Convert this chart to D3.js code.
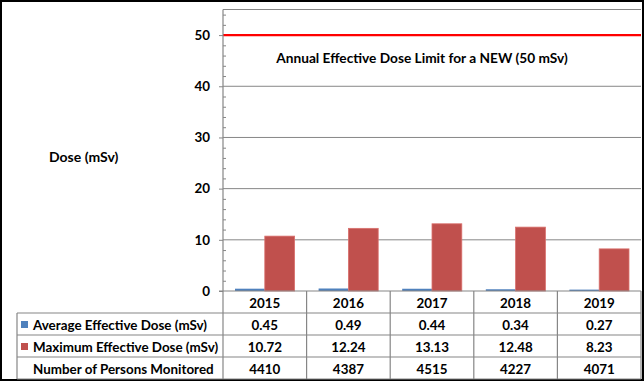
<!DOCTYPE html>
<html>
<head>
<meta charset="utf-8">
<script src="https://cdn.jsdelivr.net/npm/d3@7"></script>
<style>
  html, body { margin: 0; padding: 0; background: #fff; }
  svg { display: block; }
  text { font-family: Lato, "Open Sans", sans-serif; font-weight: bold; fill: #000; }
</style>
</head>
<body>
<svg id="chart" width="644" height="381"></svg>
<script>
const years = ["2015", "2016", "2017", "2018", "2019"];
const avgDose = [0.45, 0.49, 0.44, 0.34, 0.27];
const maxDose = [10.72, 12.24, 13.13, 12.48, 8.23];
const personsMonitored = [4410, 4387, 4515, 4227, 4071];
const seriesNames = ["Average Effective Dose (mSv)", "Maximum Effective Dose (mSv)"];
const seriesColors = ["#4F81BD", "#C0504D"];
const doseLimit = 50;
const limitLabel = "Annual Effective Dose Limit for a NEW (50 mSv)";
const yTicks = [0, 10, 20, 30, 40, 50];
const yMinorTicks = d3.range(0, 55, 2);
const yAxisTitle = "Dose (mSv)";
const rowLabel3 = "Number of Persons Monitored";

const svg = d3.select("#chart");
const W = 644, H = 381;
const plotL = 223, plotR = 641, plotT = 9.5, plotB = 291;
const rowH = 22;
const tableL = 17;
const fs = 13.4;
const gridColor = "#868686";

// outer frame
svg.append("rect").attr("x", 1).attr("y", 1).attr("width", W - 2).attr("height", H - 2)
  .attr("fill", "#fff").attr("stroke", "#000").attr("stroke-width", 2);

const x = d3.scaleBand().domain(years).range([plotL, plotR]).padding(0);
const xs = d3.scaleBand().domain([0, 1]).range([12, x.bandwidth() - 12]).padding(0);
const y = d3.scaleLinear().domain([0, 55]).range([plotB, plotT]);

// gridlines
svg.append("g").selectAll("line").data(yTicks.filter(d => d > 0)).join("line")
  .attr("x1", plotL).attr("x2", plotR)
  .attr("y1", d => y(d)).attr("y2", d => y(d))
  .attr("stroke", gridColor).attr("stroke-width", 1);

// plot border top
svg.append("line").attr("x1", plotL).attr("x2", plotR).attr("y1", plotT).attr("y2", plotT)
  .attr("stroke", gridColor).attr("stroke-width", 1.2);

// bars
const data = years.map((yr, i) => ({ yr, vals: [avgDose[i], maxDose[i]] }));
const groups = svg.append("g").selectAll("g").data(data).join("g")
  .attr("transform", d => `translate(${x(d.yr)},0)`);
groups.selectAll("rect").data(d => d.vals.map((v, k) => ({ v, k }))).join("rect")
  .attr("x", d => xs(d.k))
  .attr("width", xs.bandwidth())
  .attr("y", d => y(d.v))
  .attr("height", d => y(0) - y(d.v))
  .attr("fill", d => seriesColors[d.k])
  .attr("stroke", d => d.k === 1 ? "#D9706D" : "none")
  .attr("stroke-width", 0.8);

// dose limit line
svg.append("line").attr("x1", plotL).attr("x2", plotR)
  .attr("y1", y(doseLimit)).attr("y2", y(doseLimit))
  .attr("stroke", "#FF0000").attr("stroke-width", 2.2);
svg.append("text").attr("x", 422).attr("y", 57).attr("text-anchor", "middle")
  .attr("dominant-baseline", "central").attr("font-size", fs + 0.3).text(limitLabel);

// y axis
const yAxis = d3.axisLeft(y).tickValues(yTicks).tickSize(4).tickPadding(9);
const gy = svg.append("g").attr("transform", `translate(${plotL},0)`).call(yAxis);
gy.select(".domain").remove();
gy.selectAll(".tick line").attr("stroke", gridColor);
gy.selectAll(".tick text").attr("font-size", 13.4).attr("font-family", "Lato, sans-serif")
  .attr("font-weight", "bold").attr("fill", "#000");
const yMinor = d3.axisRight(y).tickValues(yMinorTicks.filter(d => !yTicks.includes(d))).tickSize(3).tickFormat("");
const gym = svg.append("g").attr("transform", `translate(${plotL},0)`).call(yMinor);
gym.select(".domain").remove();
gym.selectAll(".tick line").attr("stroke", gridColor);

// axis line (extends through year row)
svg.append("line").attr("x1", plotL).attr("x2", plotL).attr("y1", plotT).attr("y2", plotB + rowH)
  .attr("stroke", gridColor).attr("stroke-width", 1.2);
// x axis baseline
svg.append("line").attr("x1", plotL - 4).attr("x2", plotR).attr("y1", plotB).attr("y2", plotB)
  .attr("stroke", gridColor).attr("stroke-width", 1.2);

svg.append("text").attr("x", 49).attr("y", 156).attr("dominant-baseline", "central")
  .attr("font-size", fs + 0.6).text(yAxisTitle);

// data table
const tableB = plotB + rowH * 4;
const table = svg.append("g");
const bounds = years.slice(1).map(yr => x(yr)).concat([plotR]);
table.selectAll("line.v").data(bounds).join("line").attr("class", "v")
  .attr("x1", d => d).attr("x2", d => d).attr("y1", plotB).attr("y2", tableB)
  .attr("stroke", gridColor).attr("stroke-width", 1.2);
table.append("line").attr("x1", plotL).attr("x2", plotL).attr("y1", plotB + rowH).attr("y2", tableB)
  .attr("stroke", gridColor).attr("stroke-width", 1.2);
table.append("line").attr("x1", tableL).attr("x2", tableL).attr("y1", plotB + rowH).attr("y2", tableB)
  .attr("stroke", gridColor).attr("stroke-width", 1.2);
table.selectAll("line.h").data([1, 2, 3, 4]).join("line").attr("class", "h")
  .attr("x1", tableL).attr("x2", plotR)
  .attr("y1", d => plotB + rowH * d).attr("y2", d => plotB + rowH * d)
  .attr("stroke", gridColor).attr("stroke-width", 1.2);

table.selectAll("text.yr").data(years).join("text").attr("class", "yr")
  .attr("x", d => x(d) + x.bandwidth() / 2).attr("y", plotB + rowH / 2 + 0.5)
  .attr("text-anchor", "middle").attr("dominant-baseline", "central")
  .attr("font-size", fs).text(d => d);

const rows = [
  { label: seriesNames[0], color: seriesColors[0], vals: avgDose.map(v => v.toFixed(2)) },
  { label: seriesNames[1], color: seriesColors[1], vals: maxDose.map(v => v.toFixed(2)) },
  { label: rowLabel3, color: null, vals: personsMonitored.map(String) }
];
rows.forEach((r, ri) => {
  const cy = plotB + rowH * (ri + 1) + rowH / 2 + 0.5;
  if (r.color) {
    table.append("rect").attr("x", 21).attr("y", cy - 3.5).attr("width", 7).attr("height", 7)
      .attr("fill", r.color);
  }
  table.append("text").attr("x", r.color ? 33 : 33).attr("y", cy).attr("dominant-baseline", "central")
    .attr("font-size", fs).text(r.label);
  table.selectAll(null).data(r.vals).join("text")
    .attr("x", (d, i) => x(years[i]) + x.bandwidth() / 2).attr("y", cy)
    .attr("text-anchor", "middle").attr("dominant-baseline", "central")
    .attr("font-size", fs).text(d => d);
});
</script>
</body>
</html>
